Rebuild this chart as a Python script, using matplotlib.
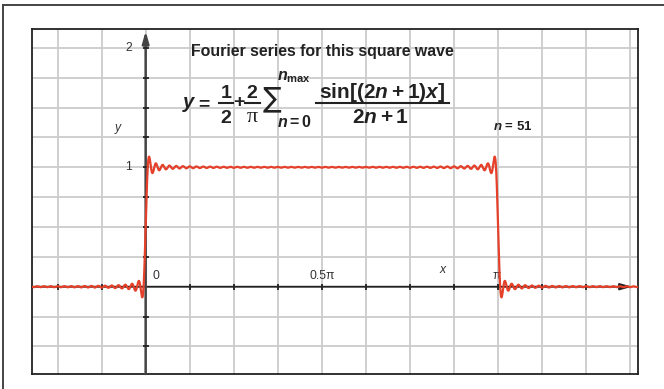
import numpy as np
import matplotlib
matplotlib.use("Agg")
import matplotlib.pyplot as plt
from matplotlib.lines import Line2D
from matplotlib.transforms import Affine2D

plt.rcParams['font.family'] = ['Liberation Sans', 'DejaVu Sans']
plt.rcParams['mathtext.fontset'] = 'custom'
plt.rcParams['mathtext.rm'] = 'Liberation Sans:bold'
plt.rcParams['mathtext.bf'] = 'Liberation Sans:bold'
plt.rcParams['mathtext.it'] = 'Liberation Sans:bold:italic'
plt.rcParams['mathtext.sf'] = 'Liberation Sans:bold'

# Series settings and axis labels
n_max = 51
x_range = (-0.3225 * np.pi, 1.397 * np.pi)
y_range = (-0.731, 2.158)
x_tick_values = [0.0, 0.5 * np.pi, np.pi]
x_tick_labels = ["0", "0.5\u03c0", "\u03c0"]
y_tick_values = [1, 2]
y_tick_labels = ["1", "2"]

# Partial Fourier sum of the square wave
x = np.linspace(x_range[0], x_range[1], 6000)
n = np.arange(0, n_max + 1)
y = 0.5 + (2 / np.pi) * np.sum(
    np.sin(np.outer(2 * n + 1, x)) / (2 * n + 1)[:, None], axis=0)

W, H = 664, 389
fig = plt.figure(figsize=(W / 100, H / 100), dpi=100)
fig.patch.set_facecolor('white')
# pixel coordinates measured from the top-left corner
px = Affine2D().scale(1 / W, -1 / H).translate(0, 1) + fig.transFigure

# Outer frame (top and left edges)
fig.add_artist(Line2D([3, W], [5, 5], transform=px, color='#444444', lw=1.4))
fig.add_artist(Line2D([3, 3], [5, H], transform=px, color='#444444', lw=1.4))

ax = fig.add_axes([32 / W, 1 - 374 / H, (638 - 32) / W, (374 - 29) / H])
ax.set_xlim(*x_range)
ax.set_ylim(*y_range)
ax.set_xticks([])
ax.set_yticks([])
for s in ax.spines.values():
    s.set_color('#222222')
    s.set_linewidth(1.3)

# Grid
grid_x = np.arange(-2, 12) * np.pi / 8
grid_y = np.arange(-2, 9) * 0.25
for gx in grid_x:
    ax.axvline(gx, color='#cccccc', lw=1.3, zorder=1)
for gy in grid_y:
    ax.axhline(gy, color='#cccccc', lw=1.3, zorder=1)

# Axes with arrows
ax.annotate('', xy=(1.38 * np.pi, 0), xytext=(x_range[0], 0),
            arrowprops=dict(arrowstyle='-|>,head_length=0.7,head_width=0.2',
                            color='#222222', lw=1.3, shrinkA=0, shrinkB=0),
            zorder=3)
ax.annotate('', xy=(0, 2.14), xytext=(0, y_range[0]),
            arrowprops=dict(arrowstyle='-|>,head_length=0.7,head_width=0.2',
                            color='#444444', lw=1.8, shrinkA=0, shrinkB=0),
            zorder=3)

# Small ticks on the axes
tx = np.array([k for k in grid_x if abs(k) > 1e-9 and k < 1.3 * np.pi])
ax.plot(tx, np.zeros_like(tx), ls='none', marker='|', ms=5, mew=1.3,
        color='#222222', zorder=3)
ty = np.array([v for v in grid_y if abs(v) > 1e-9])
ax.plot(np.zeros_like(ty), ty, ls='none', marker='_', ms=5, mew=1.3,
        color='#222222', zorder=3)

# Curve
ax.plot(x, y, color='#e5402a', lw=1.6, zorder=4)

# Tick labels
lab = dict(color='#333333', fontsize=8.8)
for v, t in zip(y_tick_values, y_tick_labels):
    ax.text(-0.039 * np.pi, v, t, ha='right', va='center', **lab)
ax.text(0.02 * np.pi, 0.09, x_tick_labels[0], ha='left', va='center', **lab)
ax.text(x_tick_values[1], 0.09, x_tick_labels[1], ha='center', va='center', **lab)
ax.text(0.9955 * np.pi, 0.09, x_tick_labels[2], ha='center', va='center', **lab)
ax.text(0.842 * np.pi, 0.14, 'x', ha='center', va='center', style='italic', **lab)
ax.text(-0.0786 * np.pi, 1.33, 'y', ha='center', va='center', style='italic', **lab)

# Title
fig.text(322, 51.5, 'Fourier series for this square wave', transform=px,
         ha='center', va='center', fontsize=11.4, fontweight='bold',
         color='#222222')

# Formula, set piece by piece
ink = '#222222'
fs = 14


def put(xc, yb, s, size=fs, va='baseline', **kw):
    fig.text(xc, yb, s, transform=px, ha='center', va=va,
             fontsize=size, color=ink, **kw)


def bar(x0, x1, yy):
    fig.add_artist(Line2D([x0, x1], [yy, yy], transform=px, color=ink, lw=1.5))


put(189, 108, r'$y$', size=14.5)
put(203, 108, r'$=$')
put(226, 98, r'$1$')
bar(219, 233, 103.5)
put(226, 123, r'$2$')
put(239, 107, '+', fontweight='bold')
put(252, 98, r'$2$')
bar(245, 260, 103.5)
put(252, 121.5, '\u03c0', size=16, family='Liberation Serif',
    fontweight='normal')
put(272.5, 98, '\u2211', size=20, va='center', family='DejaVu Sans',
    fontweight='normal')
put(294, 80, r'$n_{\mathrm{max}}$', size=11.5)
put(295, 127, r'$n = 0$', size=11.5)
put(382.5, 98, r'$\mathrm{sin}[(2n + 1)x]$', size=15)
bar(316, 449, 103.5)
put(381, 123, r'$2n + 1$', size=15)

ax.text(1.042 * np.pi, 1.34, r'$n$ = 51', ha='center', va='center',
        fontsize=9.5, fontweight='bold', color='#222222')

fig.savefig('out.png', dpi=100, facecolor='white')
